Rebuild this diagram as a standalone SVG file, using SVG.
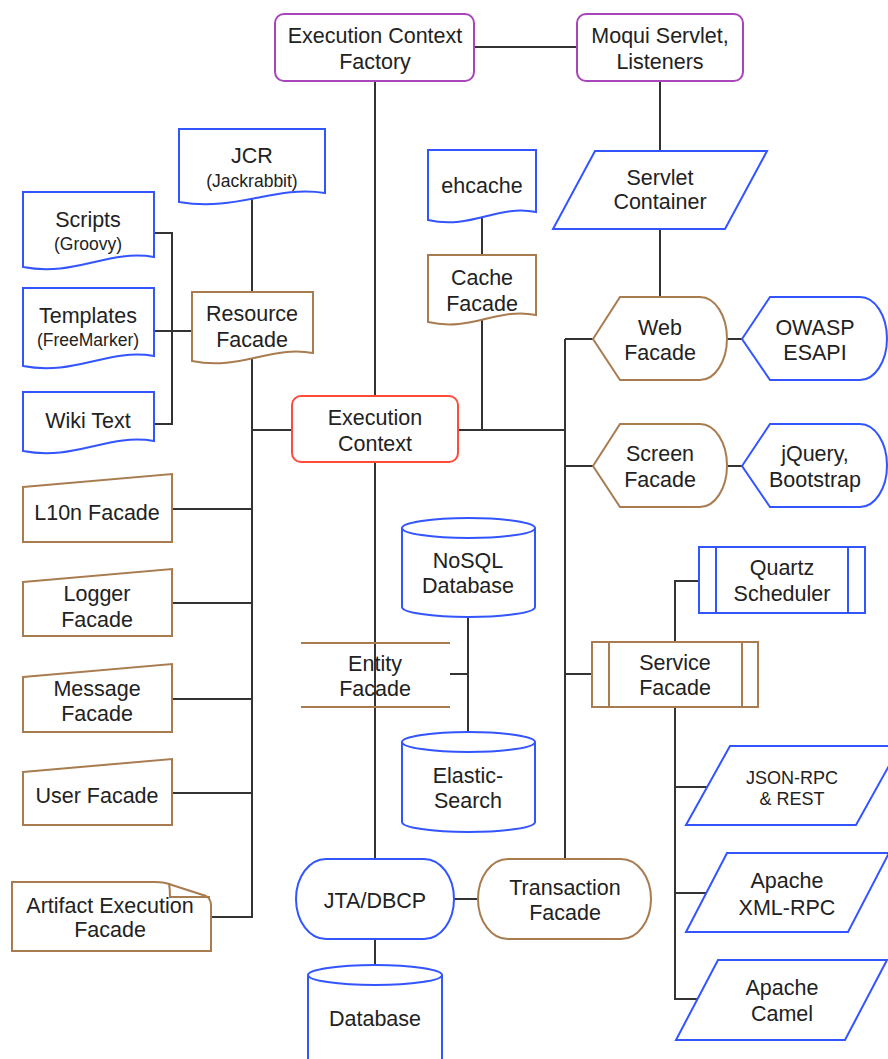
<svg xmlns="http://www.w3.org/2000/svg" width="888" height="1059" viewBox="0 0 888 1059">
<style>
.c{fill:none;stroke:#333;stroke-width:2}
.b{fill:#fff;stroke:#3355ff;stroke-width:2}
.br{fill:#fff;stroke:#a97c50;stroke-width:2}
.bl{fill:none;stroke:#a97c50;stroke-width:2}
.bb{fill:none;stroke:#3355ff;stroke-width:2}
.p{fill:#fff;stroke:#aa44bb;stroke-width:2}
.r{fill:#fff;stroke:#ff4b3a;stroke-width:2}
text{font-family:"Liberation Sans",Arial,Helvetica,sans-serif;font-size:21.5px;fill:#222;text-anchor:middle}
.s{font-size:17.5px}
.m{font-size:18px}
</style>
<rect width="888" height="1059" fill="#fff"/>
<g id="connectors">
<path class="c" d="M474,47 H577"/>
<path class="c" d="M375,81 V859"/>
<path class="c" d="M660,81 V297"/>
<path class="c" d="M252,198 V292"/>
<path class="c" d="M252,355 V917 H211"/>
<path class="c" d="M252,430 H292"/>
<path class="c" d="M172,509 H252 M172,603 H252 M172,699 H252 M172,793 H252"/>
<path class="c" d="M154,233 H172 V424 H154 M154,331 H192"/>
<path class="c" d="M482,215 V255 M482,318 V430"/>
<path class="c" d="M458,430 H565"/>
<path class="c" d="M565,339 V859 M565,339 H593 M565,466 H593 M565,674 H592"/>
<path class="c" d="M727,339 H742 M727,466 H742"/>
<path class="c" d="M699,581 H675 V642"/>
<path class="c" d="M675,707 V999 H697 M675,787 H707 M675,893 H706"/>
<path class="c" d="M468,610 V735 M450,674 H468"/>
<path class="c" d="M454,899 H478"/>
<path class="c" d="M375,939 V968"/>
</g>
<g id="ecf"><rect class="p" x="275" y="14" width="199" height="67" rx="9"/><text x="375" y="42.5">Execution Context</text><text x="375" y="68.5">Factory</text></g>
<g id="moqui"><rect class="p" x="577" y="14" width="166" height="67" rx="9"/><text x="660" y="42.5">Moqui Servlet,</text><text x="660" y="68.5">Listeners</text></g>
<g id="jcr"><path class="b" d="M179,129 H325 V193 C274,185 237,212 179,202 Z"/><text x="252" y="162.5">JCR</text><text class="s" x="252" y="187.3">(Jackrabbit)</text></g>
<g id="scripts"><path class="b" d="M23,192 H154 V257 C108,249 75,277 23,267 Z"/><text x="88" y="226.5">Scripts</text><text class="s" x="88" y="250.3">(Groovy)</text></g>
<g id="templates"><path class="b" d="M23,288 H154 V356 C108,348 75,376 23,366 Z"/><text x="88" y="322.5">Templates</text><text class="s" x="88" y="346.3">(FreeMarker)</text></g>
<g id="wiki"><path class="b" d="M23,392 H154 V441 C108,433 75,461 23,451 Z"/><text x="88" y="427.5">Wiki Text</text></g>
<g id="resource"><path class="br" d="M192,292 H313 V353 C271,345 240,371 192,361 Z"/><text x="252" y="320.5">Resource</text><text x="252" y="346.5">Facade</text></g>
<g id="ehcache"><path class="b" d="M428,150 H536 V212 C498,204 471,230 428,220 Z"/><text x="482" y="192.5">ehcache</text></g>
<g id="cache"><path class="br" d="M428,255 H536 V315 C498,307 471,332 428,322 Z"/><text x="482" y="284.5">Cache</text><text x="482" y="310.5">Facade</text></g>
<g id="servlet"><path class="b" d="M595,151 H767 L725,229 H553 Z"/><text x="660" y="184.5">Servlet</text><text x="660" y="208.5">Container</text></g>
<g id="web"><path class="br" d="M593,339 L620,297 H700 A27,41.5 0 0 1 700,380 H620 Z"/><text x="660" y="334.5">Web</text><text x="660" y="359.5">Facade</text></g>
<g id="owasp"><path class="b" d="M742,339 L770,297 H860 A27,41.5 0 0 1 860,380 H770 Z"/><text x="815" y="334.5">OWASP</text><text x="815" y="359.5">ESAPI</text></g>
<g id="screen"><path class="br" d="M593,466 L620,424 H700 A27,41.5 0 0 1 700,507 H620 Z"/><text x="660" y="460.5">Screen</text><text x="660" y="486.5">Facade</text></g>
<g id="jquery"><path class="b" d="M742,466 L770,424 H860 A27,41.5 0 0 1 860,507 H770 Z"/><text x="815" y="460.5">jQuery,</text><text x="815" y="486.5">Bootstrap</text></g>
<g id="ec"><rect class="r" x="292" y="396" width="166" height="66" rx="9"/><text x="375" y="424.5">Execution</text><text x="375" y="450.5">Context</text></g>
<g id="l10n"><path class="br" d="M23,487 L172,474 V542 H23 Z"/><text x="97" y="519.5">L10n Facade</text></g>
<g id="logger"><path class="br" d="M23,582 L172,569 V636 H23 Z"/><text x="97" y="600.5">Logger</text><text x="97" y="626.5">Facade</text></g>
<g id="message"><path class="br" d="M23,677 L172,664 V732 H23 Z"/><text x="97" y="695.5">Message</text><text x="97" y="720.5">Facade</text></g>
<g id="user"><path class="br" d="M23,772 L172,759 V825 H23 Z"/><text x="97" y="802.5">User Facade</text></g>
<g id="artifact"><path class="br" d="M12,882 H155 Q165,882 172,885 L206,896 Q211,899 211,905 V951 H12 Z"/><path class="bl" d="M169,883 Q170,890 170,897 H210"/><text x="110" y="912.5">Artifact Execution</text><text x="110" y="936.5">Facade</text></g>
<g id="nosql"><path class="b" d="M402,528 V607 A66.5,10 0 0 0 535,607 V528 A66.5,10 0 0 0 402,528 Z"/><path class="bb" d="M402,528 A66.5,10 0 0 0 535,528"/><text x="468" y="567.5">NoSQL</text><text x="468" y="592.5">Database</text></g>
<g id="entity"><path class="bl" d="M301,643 H450 M301,707 H450"/><text x="375" y="670.5">Entity</text><text x="375" y="695.5">Facade</text></g>
<g id="elastic"><path class="b" d="M402,742 V822 A66.5,10 0 0 0 535,822 V742 A66.5,10 0 0 0 402,742 Z"/><path class="bb" d="M402,742 A66.5,10 0 0 0 535,742"/><text x="468" y="782.5">Elastic-</text><text x="468" y="807.5">Search</text></g>
<g id="quartz"><rect class="b" x="699" y="547" width="166" height="66"/><path class="bb" d="M716,547 V613 M848,547 V613"/><text x="782" y="574.5">Quartz</text><text x="782" y="600.5">Scheduler</text></g>
<g id="service"><rect class="br" x="592" y="642" width="166" height="65"/><path class="bl" d="M609,642 V707 M742,642 V707"/><text x="675" y="669.5">Service</text><text x="675" y="694.5">Facade</text></g>
<g id="jsonrpc"><path class="b" d="M730,746 H900 L856,825 H686 Z"/><text class="m" x="792" y="783.5">JSON-RPC</text><text class="m" x="792" y="804.5">&amp; REST</text></g>
<g id="xmlrpc"><path class="b" d="M727,853 H889 L848,932 H686 Z"/><text x="787" y="887.5">Apache</text><text x="787" y="914.5">XML-RPC</text></g>
<g id="camel"><path class="b" d="M718,960 H887 L845,1040 H676 Z"/><text x="782" y="994.5">Apache</text><text x="782" y="1020.5">Camel</text></g>
<g id="jta"><rect class="b" x="296" y="859" width="158" height="80" rx="30" ry="40"/><text x="375" y="907.5">JTA/DBCP</text></g>
<g id="transaction"><rect class="br" x="478" y="859" width="173" height="80" rx="30" ry="40"/><text x="565" y="894.5">Transaction</text><text x="565" y="919.5">Facade</text></g>
<g id="database"><path class="b" d="M308,975 V1065 H442 V975 A67,10 0 0 0 308,975 Z"/><path class="bb" d="M308,975 A67,10 0 0 0 442,975"/><text x="375" y="1025.5">Database</text></g>
</svg>
